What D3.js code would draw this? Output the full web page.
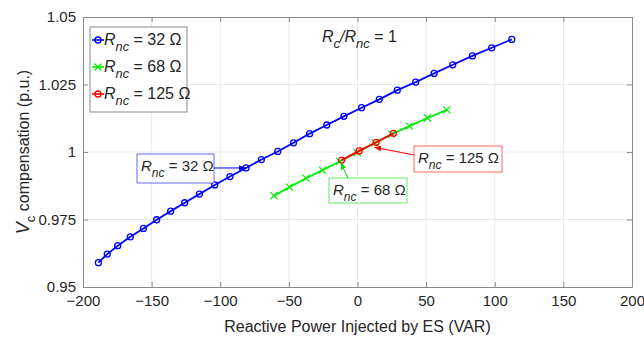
<!DOCTYPE html>
<html>
<head>
<meta charset="utf-8">
<script src="https://cdn.jsdelivr.net/npm/d3@7"></script>
<style>
  body { margin: 0; background: #fff; }
  text { font-family: "Liberation Sans", Arial, sans-serif; }
</style>
</head>
<body>
<svg id="canvas"></svg>
<script>
const width = 644;
const height = 338;
const margin = { left: 83, right: 12, top: 17, bottom: 51 };

// data
const xTicks = [-200, -150, -100, -50, 0, 50, 100, 150, 200];
const yTicks = [0.95, 0.975, 1, 1.025, 1.05];
const yTickLabels = ["0.95", "0.975", "1", "1.025", "1.05"];

const q32 = [-188.8, -182.3, -174.7, -165.5, -156.0, -146.3, -136.1, -125.9, -115.2, -104.0, -92.9, -81.2, -70.0, -58.1,
             -46.6, -34.9, -22.4, -9.9, 3.0, 15.9, 29.0, 42.4, 55.8, 69.4, 83.7, 97.8, 112.4];
const v32 = [0.9590, 0.9622, 0.9653, 0.9686, 0.9717, 0.9749, 0.9781, 0.9812, 0.9844, 0.9878, 0.9909, 0.9941, 0.9972, 1.0002,
             1.0034, 1.0068, 1.0100, 1.0132, 1.0164, 1.0195, 1.0229, 1.0259, 1.0291, 1.0323, 1.0356, 1.0386, 1.0417];
const q68 = [-60.8, -49.6, -37.5, -25.4, -13.0, -0.3, 12.8, 25.0, 37.8, 51.0, 65.1];
const v68 = [0.9838, 0.9870, 0.9903, 0.9933, 0.9965, 0.9998, 1.0034, 1.0066, 1.0096, 1.0126, 1.0156];
const q125 = [-11.5, 1.2, 13.6, 26.2];
const v125 = [0.9970, 1.0004, 1.0036, 1.0069];

const series = [
  { name: "32", q: q32, v: v32, color: "#0000ff", marker: "circle" },
  { name: "68", q: q68, v: v68, color: "#00ee00", marker: "cross" },
  { name: "125", q: q125, v: v125, color: "#ff0000", marker: "circle" }
];

const svg = d3.select("#canvas").attr("width", width).attr("height", height);

const x = d3.scaleLinear().domain([-200, 200]).range([margin.left, width - margin.right]);
const y = d3.scaleLinear().domain([0.95, 1.05]).range([height - margin.bottom, margin.top]);

const axisColor = "#8a8a8a";
const textColor = "#262626";

// grid
svg.append("g").selectAll("line").data(xTicks.slice(1, -1)).enter().append("line")
   .attr("x1", d => x(d)).attr("x2", d => x(d))
   .attr("y1", y(0.95)).attr("y2", y(1.05))
   .attr("stroke", "#e8e8e8");
svg.append("g").selectAll("line").data(yTicks.slice(1, -1)).enter().append("line")
   .attr("x1", x(-200)).attr("x2", x(200))
   .attr("y1", d => y(d)).attr("y2", d => y(d))
   .attr("stroke", "#e8e8e8");

// axes (ticks inward, all four sides)
function styleAxis(g) {
  g.select(".domain").attr("stroke", axisColor);
  g.selectAll(".tick line").attr("stroke", axisColor);
  g.selectAll(".tick text").attr("fill", textColor).style("font-size", "15px");
}
svg.append("g").attr("transform", `translate(0,${y(0.95)})`)
   .call(d3.axisBottom(x).tickValues(xTicks).tickSize(-5).tickSizeOuter(0).tickPadding(8))
   .call(styleAxis);
svg.append("g").attr("transform", `translate(0,${y(1.05)})`)
   .call(d3.axisTop(x).tickValues(xTicks).tickSize(-5).tickSizeOuter(0).tickFormat(""))
   .call(styleAxis);
svg.append("g").attr("transform", `translate(${x(-200)},0)`)
   .call(d3.axisLeft(y).tickValues(yTicks).tickSize(-5).tickSizeOuter(0).tickPadding(7)
         .tickFormat((d, i) => yTickLabels[i]))
   .call(styleAxis);
svg.append("g").attr("transform", `translate(${x(200)},0)`)
   .call(d3.axisRight(y).tickValues(yTicks).tickSize(-5).tickSizeOuter(0).tickFormat(""))
   .call(styleAxis);

// lines and markers
const line = d3.line().x(d => x(d[0])).y(d => y(d[1]));
function drawMarker(g, type, cx, cy, color) {
  if (type === "circle") {
    g.append("circle").attr("cx", cx).attr("cy", cy).attr("r", 3)
     .attr("fill", "none").attr("stroke", color).attr("stroke-width", 1.3);
  } else {
    const s = 3.5;
    g.append("path").attr("d", `M${cx - s},${cy - s}L${cx + s},${cy + s}M${cx - s},${cy + s}L${cx + s},${cy - s}`)
     .attr("stroke", color).attr("stroke-width", 1.2);
  }
}
series.forEach(s => {
  const pts = s.q.map((q, i) => [q, s.v[i]]);
  const g = svg.append("g");
  g.append("path").datum(pts).attr("d", line)
   .attr("fill", "none").attr("stroke", s.color).attr("stroke-width", 1.8);
  pts.forEach(p => drawMarker(g, s.marker, x(p[0]), y(p[1]), s.color));
});

// R_nc = ... text helper
function rncText(g, tx, ty, value, size) {
  const t = g.append("text").attr("x", tx).attr("y", ty).attr("fill", textColor).style("font-size", size + "px");
  t.append("tspan").attr("font-style", "italic").text("R");
  t.append("tspan").attr("font-style", "italic").attr("dy", size * 0.4).style("font-size", (size * 0.8) + "px").text("nc");
  t.append("tspan").attr("dy", -size * 0.4).text(` = ${value} Ω`);
  return t;
}

// legend
const lg = svg.append("g");
lg.append("rect").attr("x", 90).attr("y", 27).attr("width", 97).attr("height", 85)
  .attr("fill", "#fff").attr("stroke", axisColor);
series.forEach((s, i) => {
  const ly = 40 + i * 27;
  lg.append("line").attr("x1", 92).attr("x2", 104).attr("y1", ly).attr("y2", ly)
    .attr("stroke", s.color).attr("stroke-width", 1.6);
  drawMarker(lg, s.marker, 98, ly, s.color);
  rncText(lg, 104, ly + 5, s.name, 16);
});

// Rc/Rnc = 1
const rt = svg.append("text").attr("x", 322).attr("y", 42).attr("fill", textColor).style("font-size", "16px");
rt.append("tspan").attr("font-style", "italic").text("R");
rt.append("tspan").attr("font-style", "italic").attr("dy", 6).style("font-size", "13px").text("c");
rt.append("tspan").attr("dy", -6).attr("font-style", "italic").text("/R");
rt.append("tspan").attr("font-style", "italic").attr("dy", 6).style("font-size", "13px").text("nc");
rt.append("tspan").attr("dy", -6).text(" = 1");

// annotation boxes
const annots = [
  { value: "32", color: "#0000ff", box: [137, 154, 77, 29], from: [214, 168], to: [x(q32[11]), y(v32[11])] },
  { value: "125", color: "#ff0000", box: [414, 146, 88, 26], from: [414, 155], to: [x(q125[2]) - 2, y(v125[2]) + 5] },
  { value: "68", color: "#00dd00", box: [329, 178, 78, 25], from: [348, 178], to: [x(q68[4]) + 1, y(v68[4]) + 1] }
];
const defs = svg.append("defs");
annots.forEach((a, i) => {
  defs.append("marker").attr("id", "ah" + i).attr("viewBox", "0 0 10 10").attr("refX", 10).attr("refY", 5)
      .attr("markerWidth", 7).attr("markerHeight", 7).attr("orient", "auto")
      .append("path").attr("d", "M0,1L10,5L0,9z").attr("fill", a.color);
  const g = svg.append("g");
  g.append("rect").attr("x", a.box[0]).attr("y", a.box[1]).attr("width", a.box[2]).attr("height", a.box[3])
   .attr("fill", "#fff").attr("stroke", a.color).attr("stroke-opacity", 0.6);
  g.append("line").attr("x1", a.from[0]).attr("y1", a.from[1]).attr("x2", a.to[0]).attr("y2", a.to[1])
   .attr("stroke", a.color).attr("stroke-width", 1).attr("marker-end", `url(#ah${i})`);
  rncText(g, a.box[0] + 4, a.box[1] + 17, a.value, 15);
});

// axis labels
svg.append("text").attr("x", x(0)).attr("y", 332).attr("text-anchor", "middle")
   .attr("fill", textColor).style("font-size", "16px").text("Reactive Power Injected by ES (VAR)");
const yl = svg.append("text").attr("transform", `translate(29,${y(1)}) rotate(-90)`).attr("text-anchor", "middle")
   .attr("fill", textColor).style("font-size", "16px");
yl.append("tspan").attr("font-style", "italic").style("font-size", "18px").text("V");
yl.append("tspan").attr("dy", 6).style("font-size", "13px").text("c");
yl.append("tspan").attr("dy", -6).text(" compensation (p.u.)");
</script>
</body>
</html>
